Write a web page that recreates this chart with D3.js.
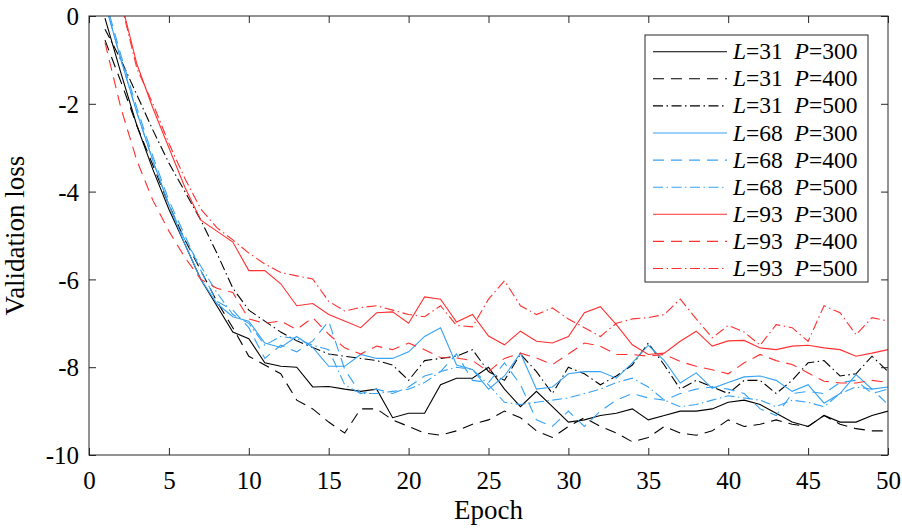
<!DOCTYPE html>
<html><head><meta charset="utf-8">
<script src="https://cdn.jsdelivr.net/npm/d3@7"></script>
<style>html,body{margin:0;padding:0;background:#fff}</style>
</head><body>
<svg id="c" width="902" height="530"></svg>
<script>
const epochs = [1,2,3,4,5,6,7,8,9,10,11,12,13,14,15,16,17,18,19,20,21,22,23,24,25,26,27,28,29,30,31,32,33,34,35,36,37,38,39,40,41,42,43,44,45,46,47,48,49,50];
const xTicks = [0,5,10,15,20,25,30,35,40,45,50];
const yTicks = [0,-2,-4,-6,-8,-10];

const b300 = [-0.05,-1.3,-2.5,-3.5,-4.4,-5.2,-6.0,-6.6,-7.2,-7.35,
 -7.9,-7.98,-8.0,-8.45,-8.44,-8.5,-8.55,-8.5,-9.15,-9.05,
 -9.05,-8.4,-8.25,-8.25,-8.0,-8.5,-8.9,-8.55,-8.9,-9.25,
 -9.2,-9.1,-9.05,-8.95,-9.2,-9.1,-9.0,-9.0,-8.95,-8.8,
 -8.75,-8.85,-9.05,-9.25,-9.35,-9.1,-9.25,-9.25,-9.1,-9.0];
const b400 = [-0.55,-1.5,-2.5,-3.4,-4.3,-5.1,-5.8,-6.5,-7.1,-7.75,
 -7.95,-8.15,-8.75,-8.95,-9.25,-9.5,-8.95,-8.95,-9.2,-9.35,
 -9.5,-9.55,-9.45,-9.3,-9.2,-9.0,-9.15,-9.45,-9.6,-9.35,
 -9.15,-9.35,-9.5,-9.7,-9.6,-9.35,-9.5,-9.55,-9.45,-9.2,
 -9.35,-9.3,-9.2,-9.3,-9.35,-9.1,-9.3,-9.4,-9.45,-9.45];
const b500 = [-0.3,-1.0,-1.8,-2.6,-3.35,-4.0,-4.65,-5.4,-6.2,-6.7,
 -6.95,-7.2,-7.4,-7.55,-7.7,-7.75,-7.8,-7.85,-7.95,-8.3,
 -7.85,-7.8,-7.75,-7.6,-8.1,-8.3,-7.7,-8.1,-8.6,-8.0,
 -8.15,-8.4,-8.2,-7.95,-7.45,-7.95,-8.5,-8.3,-8.45,-8.6,
 -8.3,-8.3,-8.6,-8.3,-7.9,-7.85,-8.2,-8.15,-7.75,-8.1];
const c300 = [0.3,-1.0,-2.2,-3.3,-4.3,-5.2,-6.0,-6.55,-6.85,-6.95,
 -7.45,-7.55,-7.3,-7.55,-7.98,-7.98,-7.71,-7.8,-7.8,-7.65,
 -7.3,-7.1,-7.95,-8.05,-8.5,-8.2,-7.68,-8.5,-8.45,-8.15,
 -8.1,-8.1,-8.25,-7.9,-7.5,-7.85,-8.36,-8.13,-8.48,-8.35,
 -8.22,-8.2,-8.3,-8.55,-8.4,-8.82,-8.6,-8.17,-8.5,-8.45];
const c400 = [0.4,-0.9,-2.1,-3.2,-4.2,-5.0,-5.8,-6.5,-6.7,-7.1,
 -7.8,-7.5,-7.65,-7.4,-6.95,-8.05,-8.6,-8.5,-8.6,-8.45,
 -8.2,-8.1,-7.7,-8.3,-8.35,-7.9,-8.4,-9.2,-9.35,-9.0,
 -9.35,-9.0,-8.75,-8.6,-8.7,-8.75,-8.6,-8.5,-8.45,-8.5,
 -8.6,-8.95,-9.1,-8.6,-8.55,-8.6,-8.35,-8.3,-8.6,-8.5];
const c500 = [0.3,-1.0,-2.2,-3.3,-4.3,-5.1,-5.7,-6.3,-6.8,-7.0,
 -7.5,-7.3,-7.35,-7.5,-7.6,-8.4,-8.6,-8.6,-8.55,-8.5,
 -8.35,-8.1,-8.0,-8.05,-8.4,-8.8,-8.85,-8.8,-8.75,-8.7,
 -8.6,-8.5,-8.35,-8.25,-8.45,-8.75,-8.9,-8.85,-8.75,-8.65,
 -8.7,-8.75,-8.9,-8.75,-8.8,-8.9,-8.6,-8.45,-8.5,-8.85];
const r300 = [1.6,0.35,-1.1,-2.1,-3.0,-3.9,-4.65,-4.9,-5.15,-5.8,
 -5.8,-6.1,-6.6,-6.55,-6.8,-6.95,-7.1,-6.76,-6.74,-7.0,
 -6.4,-6.45,-6.97,-6.8,-7.29,-7.49,-7.18,-7.41,-7.45,-7.3,
 -6.76,-6.62,-7.03,-7.49,-7.71,-7.68,-7.41,-7.18,-7.52,-7.4,
 -7.39,-7.56,-7.6,-7.52,-7.5,-7.56,-7.6,-7.75,-7.68,-7.6];
const r400 = [-0.6,-2.1,-3.3,-4.2,-4.9,-5.5,-6.0,-6.2,-6.3,-6.9,
 -7.0,-6.95,-7.14,-6.87,-7.25,-7.56,-7.7,-7.52,-7.6,-7.45,
 -7.6,-7.78,-7.79,-7.85,-8.1,-7.8,-7.68,-7.79,-7.94,-7.7,
 -7.45,-7.52,-7.71,-7.71,-7.75,-7.71,-7.87,-7.98,-8.06,-8.15,
 -7.9,-7.71,-7.85,-7.94,-8.13,-8.32,-8.36,-8.36,-8.3,-8.35];
const r500 = [1.5,0.3,-1.2,-2.0,-2.9,-3.7,-4.4,-4.82,-5.1,-5.4,
 -5.65,-5.84,-5.92,-5.99,-6.5,-6.72,-6.64,-6.6,-6.7,-6.8,
 -6.85,-6.6,-7.05,-7.08,-6.45,-6.03,-6.6,-6.8,-6.65,-6.9,
 -7.1,-7.3,-7.0,-6.9,-6.87,-6.8,-6.45,-6.9,-7.33,-7.05,
 -7.2,-7.5,-7.03,-7.1,-7.41,-6.6,-6.76,-7.26,-6.87,-6.95];

const seriesL = ["31","31","31","68","68","68","93","93","93"];
const seriesP = ["300","400","500","300","400","500","300","400","500"];
const seriesValues = [b300,b400,b500,c300,c400,c500,r300,r400,r500];

const colors = {"31":"#000000","68":"#36a2f5","93":"#ff3030"};
const dashes = {"300":null,"400":"11,7","500":"10,3.5,1.5,3.5"};

const svg = d3.select("#c");
const m = {l:89, r:888, t:16, b:455};
const x = d3.scaleLinear().domain([0,50]).range([m.l,m.r]);
const y = d3.scaleLinear().domain([-10,0]).range([m.b,m.t]);
const axisCol = "#262626";
const font = "'Liberation Serif', 'DejaVu Serif', serif";

svg.append("defs").append("clipPath").attr("id","clip")
  .append("rect").attr("x",m.l).attr("y",m.t).attr("width",m.r-m.l).attr("height",m.b-m.t);

const line = d3.line().x((d,i)=>x(epochs[i])).y(d=>y(d));
const g = svg.append("g").attr("clip-path","url(#clip)");
seriesValues.forEach((vals,k)=>{
  g.append("path").datum(vals).attr("d",line)
   .attr("fill","none").attr("stroke",colors[seriesL[k]])
   .attr("stroke-width",1.1)
   .attr("stroke-dasharray",dashes[seriesP[k]]);
});

// axes (box with inner ticks)
const tl = 7;
const ax = svg.append("g").attr("stroke",axisCol).attr("stroke-width",1);
ax.append("rect").attr("x",m.l).attr("y",m.t).attr("width",m.r-m.l).attr("height",m.b-m.t).attr("fill","none");
const bottomAxis = d3.axisBottom(x).tickValues(xTicks).tickSize(-tl).tickFormat(d3.format("d"));
const topAxis = d3.axisTop(x).tickValues(xTicks).tickSize(-tl).tickFormat("");
const leftAxis = d3.axisLeft(y).tickValues(yTicks).tickSize(-tl).tickFormat(d=>d<0?"-"+Math.abs(d):String(d));
const rightAxis = d3.axisRight(y).tickValues(yTicks).tickSize(-tl).tickFormat("");
function styleAxis(sel){
  sel.select(".domain").remove();
  sel.selectAll(".tick line").attr("stroke",axisCol);
  sel.selectAll(".tick text").attr("fill","#000").style("font-family",font).style("font-size","25px");
}
svg.append("g").attr("transform",`translate(0,${m.b})`).call(bottomAxis).call(styleAxis)
  .selectAll(".tick text").attr("y",10).attr("dy","0.95em");
svg.append("g").attr("transform",`translate(0,${m.t})`).call(topAxis).call(styleAxis);
svg.append("g").attr("transform",`translate(${m.l},0)`).call(leftAxis).call(styleAxis)
  .selectAll(".tick text").attr("x",-10).attr("dy","0.35em");
svg.append("g").attr("transform",`translate(${m.r},0)`).call(rightAxis).call(styleAxis);

// axis labels
svg.append("text").attr("x",(m.l+m.r)/2).attr("y",519).attr("text-anchor","middle")
  .style("font-family",font).style("font-size","27px").text("Epoch");
svg.append("text").attr("transform",`translate(24,${(m.t+m.b)/2}) rotate(-90)`).attr("text-anchor","middle")
  .style("font-family",font).style("font-size","27px").text("Validation loss");

// legend
const lg = svg.append("g");
lg.append("rect").attr("x",645).attr("y",35).attr("width",223).attr("height",247)
  .attr("fill","#fff").attr("stroke",axisCol).attr("stroke-width",1);
seriesValues.forEach((vals,k)=>{
  const yy = 51.7 + k*27.1;
  lg.append("line").attr("x1",653).attr("x2",727).attr("y1",yy).attr("y2",yy)
    .attr("stroke",colors[seriesL[k]]).attr("stroke-width",1.1)
    .attr("stroke-dasharray",dashes[seriesP[k]]);
  const t = lg.append("text").attr("x",733).attr("y",yy+7.5).style("font-family",font).style("font-size","23.5px");
  t.append("tspan").style("font-style","italic").text("L");
  t.append("tspan").text("=" + seriesL[k] + "\u2002");
  t.append("tspan").style("font-style","italic").text("P");
  t.append("tspan").text("=" + seriesP[k]);
});
</script>
</body></html>
